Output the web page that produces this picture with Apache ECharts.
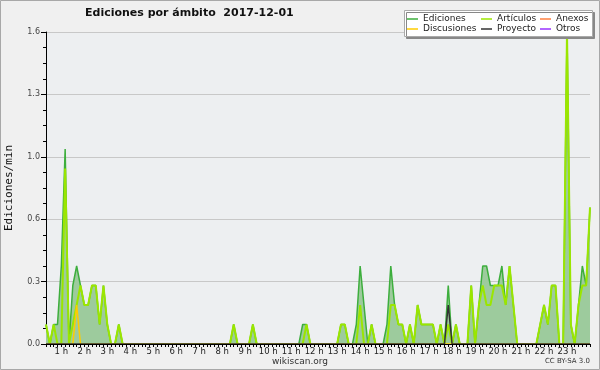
<!DOCTYPE html>
<html><head><meta charset="utf-8">
<script src="https://cdn.jsdelivr.net/npm/echarts@6/dist/echarts.min.js"></script>
<style>html,body{margin:0;padding:0;background:#f0f0f0}#c{width:600px;height:370px}</style>
</head><body><div id="c"></div>
<script>
// time categories: 0:20 .. 24:00, every 10 minutes
const startMin = 20, stepMin = 10, endMin = 1440;
const categories = [];
for (let m = startMin; m <= endMin; m += stepMin) categories.push(Math.floor(m/60) + ':' + String(m%60).padStart(2,'0'));

const yTicks = [0, 0.32, 0.64, 0.96, 1.28, 1.6];

// values (edits/min); first row = 0:20-0:50, then one row per hour (h:00-h:50), last = 24:00
const ediciones = [
  0.1,0,0.1,0.1,
  0.4,1.0,0,0.3,0.4,0.3,      // 1 h
  0.2,0.2,0.3,0.3,0.1,0.3,    // 2 h
  0.1,0,0,0.1,0,0,            // 3 h
  0,0,0,0,0,0,                // 4 h
  0,0,0,0,0,0,                // 5 h
  0,0,0,0,0,0,                // 6 h
  0,0,0,0,0,0,                // 7 h
  0,0,0,0.1,0,0,              // 8 h
  0,0,0.1,0,0,0,              // 9 h
  0,0,0,0,0,0,                // 10 h
  0,0,0,0.1,0.1,0,            // 11 h
  0,0,0,0,0,0,                // 12 h
  0,0.1,0.1,0,0,0.1,          // 13 h
  0.4,0.2,0,0.1,0,0,          // 14 h
  0,0.1,0.4,0.2,0.1,0.1,      // 15 h
  0,0.1,0,0.2,0.1,0.1,        // 16 h
  0.1,0.1,0,0.1,0,0.3,        // 17 h
  0,0.1,0,0,0,0.3,            // 18 h
  0,0.2,0.4,0.4,0.3,0.3,      // 19 h
  0.3,0.4,0.2,0.4,0.2,0,      // 20 h
  0,0,0,0,0,0.1,              // 21 h
  0.2,0.1,0.3,0.3,0,0,        // 22 h
  1.6,0.1,0,0.2,0.4,0.3,      // 23 h
  0.7
];
const articulos = [
  0.1,0,0.1,0,
  0,0.9,0,0.1,0.2,0.3,        // 1 h
  0.2,0.2,0.3,0.3,0.1,0.3,    // 2 h
  0.1,0,0,0.1,0,0,            // 3 h
  0,0,0,0,0,0,                // 4 h
  0,0,0,0,0,0,                // 5 h
  0,0,0,0,0,0,                // 6 h
  0,0,0,0,0,0,                // 7 h
  0,0,0,0.1,0,0,              // 8 h
  0,0,0.1,0,0,0,              // 9 h
  0,0,0,0,0,0,                // 10 h
  0,0,0,0,0.1,0,              // 11 h
  0,0,0,0,0,0,                // 12 h
  0,0.1,0.1,0,0,0,            // 13 h
  0.2,0,0,0.1,0,0,            // 14 h
  0,0,0.2,0.2,0.1,0.1,        // 15 h
  0,0.1,0,0.2,0.1,0.1,        // 16 h
  0.1,0.1,0,0.1,0,0.1,        // 17 h
  0,0.1,0,0,0,0.3,            // 18 h
  0,0.2,0.3,0.2,0.2,0.3,      // 19 h
  0.3,0.3,0.2,0.4,0.2,0,      // 20 h
  0,0,0,0,0,0.1,              // 21 h
  0.2,0.1,0.3,0.3,0,0,        // 22 h
  1.6,0.1,0,0.2,0.3,0.3,      // 23 h
  0.7
];
const anexos = [
  0,0,0,0,
  0,0,0,0,0,0, 0,0,0,0,0,0, 0,0,0,0,0,0, 0,0,0,0,0,0, 0,0,0,0,0,0, 0,0,0,0,0,0,   // 1-6 h
  0,0,0,0,0,0, 0,0,0,0,0,0, 0,0,0,0,0,0, 0,0,0,0,0,0, 0,0,0,0,0,0, 0,0,0,0,0,0,   // 7-12 h
  0,0,0,0,0,0, 0,0,0,0,0,0, 0,0,0,0,0,0, 0,0,0,0,0,0, 0,0,0,0,0,0, 0,0,0,0,0,0,   // 13-18 h
  0,0,0,0,0,0, 0,0,0,0,0,0, 0,0,0,0,0,0, 0,0,0,0,0,0, 0,0,0,0,0,0,                // 19-23 h
  0
];
const discusiones = [
  0,0,0,0,
  0,0,0,0,0.2,0, 0,0,0,0,0,0, 0,0,0,0,0,0, 0,0,0,0,0,0, 0,0,0,0,0,0, 0,0,0,0,0,0, // 1-6 h
  0,0,0,0,0,0, 0,0,0,0,0,0, 0,0,0,0,0,0, 0,0,0,0,0,0, 0,0,0,0,0,0, 0,0,0,0,0,0,   // 7-12 h
  0,0,0,0,0,0, 0,0,0,0,0,0, 0,0,0,0,0,0, 0,0,0,0,0,0, 0,0,0,0,0,0, 0,0,0,0,0,0,   // 13-18 h
  0,0,0,0,0,0, 0,0,0,0,0,0, 0,0,0,0,0,0, 0,0,0,0,0,0, 0,0,0,0,0,0,                // 19-23 h
  0
];
const proyecto = [
  0,0,0,0,
  0,0,0,0,0,0, 0,0,0,0,0,0, 0,0,0,0,0,0, 0,0,0,0,0,0, 0,0,0,0,0,0, 0,0,0,0,0,0,   // 1-6 h
  0,0,0,0,0,0, 0,0,0,0,0,0, 0,0,0,0,0,0, 0,0,0,0,0,0, 0,0,0,0,0,0, 0,0,0,0,0,0,   // 7-12 h
  0,0,0,0,0,0, 0,0,0,0,0,0, 0,0,0,0,0,0, 0,0,0,0,0,0, 0,0,0,0,0,0.2, 0,0,0,0,0,0, // 13-18 h
  0,0,0,0,0,0, 0,0,0,0,0,0, 0,0,0,0,0,0, 0,0,0,0,0,0, 0,0,0,0,0,0,                // 19-23 h
  0
];
const otros = [
  0,0,0,0,
  0,0,0,0,0,0, 0,0,0,0,0,0, 0,0,0,0,0,0, 0,0,0,0,0,0, 0,0,0,0,0,0, 0,0,0,0,0,0,   // 1-6 h
  0,0,0,0,0,0, 0,0,0,0,0,0, 0,0,0,0,0,0, 0,0,0,0,0,0, 0,0,0,0,0,0, 0,0,0,0,0,0,   // 7-12 h
  0,0,0,0,0,0, 0,0,0,0,0,0, 0,0,0,0,0,0, 0,0,0,0,0,0, 0,0,0,0,0,0, 0,0,0,0,0,0,   // 13-18 h
  0,0,0,0,0,0, 0,0,0,0,0,0, 0,0,0,0,0,0, 0,0,0,0,0,0, 0,0,0,0,0,0,                // 19-23 h
  0
];

const chart = echarts.init(document.getElementById('c'), null, {renderer:'canvas'});
const lf = {fontFamily:'DejaVu Sans', fontSize:9, color:'#222', lineHeight:10};
const legBase = {orient:'vertical', top:14, itemGap:0, itemWidth:11, itemHeight:1.5, icon:'rect', itemTextGap:5, textStyle:lf, padding:0, z:20, selectedMode:false};
function mk(name, data, color, width, z, area){
  const s = {name, type:'line', data, symbol:'none', showSymbol:false, z, animation:false,
    itemStyle:{color}, lineStyle:{color, width}};
  if (area) s.areaStyle = {color:area, opacity:1};
  return s;
}
chart.setOption({
  backgroundColor:'#f0f0f0',
  animation:false,
  title:{text:'Ediciones por ámbito  2017-12-01', left:80, top:3,
    textStyle:{fontFamily:'DejaVu Sans', fontWeight:'bold', fontSize:11, color:'#111'}},
  grid:{left:46, right:10, top:32, bottom:26, show:true, backgroundColor:'#edeff1', borderWidth:0,
    containLabel:false, outerBoundsMode:'none'},
  legend:[
    Object.assign({data:['Ediciones','Discusiones'], left:407}, legBase),
    Object.assign({data:['Artículos','Proyecto'], left:481}, legBase),
    Object.assign({data:['Anexos','Otros'], left:540}, legBase)
  ],
  xAxis:{type:'category', data:categories, boundaryGap:false, z:10,
    axisLine:{lineStyle:{color:'#000', width:1}},
    axisTick:{interval:0, length:3, lineStyle:{color:'#000'}},
    axisLabel:{interval:(i)=> (startMin + stepMin*i) % 60 === 0 && i < categories.length-1,
      formatter:(v)=> v.split(':')[0] + ' h', fontFamily:'DejaVu Sans', fontSize:8.5, color:'#222', margin:3},
    splitLine:{show:false}},
  yAxis:{type:'value', min:yTicks[0], max:yTicks[yTicks.length-1], interval:yTicks[1]-yTicks[0],
    name:'Ediciones/min', nameLocation:'middle', nameGap:31, nameRotate:90,
    nameTextStyle:{fontFamily:'DejaVu Sans Mono', fontSize:11, color:'#111'},
    axisLine:{show:true, lineStyle:{color:'#000'}},
    axisTick:{show:true, length:5, lineStyle:{color:'#000'}},
    minorTick:{show:true, splitNumber:4, length:3, lineStyle:{color:'#000'}},
    axisLabel:{formatter:(v)=>v.toFixed(1), fontFamily:'DejaVu Sans', fontSize:8, color:'#444', margin:6},
    splitLine:{show:true, lineStyle:{color:'#c8c8c8', width:1}}},
  graphic:[
    {type:'rect', z:15, shape:{x:404.5, y:10.5, width:188, height:26},
      style:{fill:'#fff', stroke:'#aaa', lineWidth:1, shadowColor:'#888', shadowOffsetX:2, shadowOffsetY:2, shadowBlur:0}},
    {type:'text', left:'center', top:357, style:{text:'wikiscan.org', fontFamily:'DejaVu Sans', fontSize:9, fill:'#333'}},
    {type:'text', right:10, top:358, style:{text:'CC BY-SA 3.0', fontFamily:'DejaVu Sans', fontSize:7, fill:'#333'}},
    {type:'rect', z:30, shape:{x:0.5, y:0.5, width:599, height:369}, style:{fill:'none', stroke:'#a8a8a8', lineWidth:1}}
  ],
  series:[
    mk('Ediciones', ediciones, '#3dae3d', 1.5, 2, '#9dcb9d'),
    mk('Anexos', anexos, '#ff8040', 1.5, 1),
    mk('Otros', otros, '#9933ff', 1.5, 1),
    mk('Artículos', articulos, '#9be600', 2, 3),
    mk('Discusiones', discusiones, '#ffcc00', 1.5, 4),
    mk('Proyecto', proyecto, '#333333', 1.5, 5)
  ]
});
</script></body></html>
